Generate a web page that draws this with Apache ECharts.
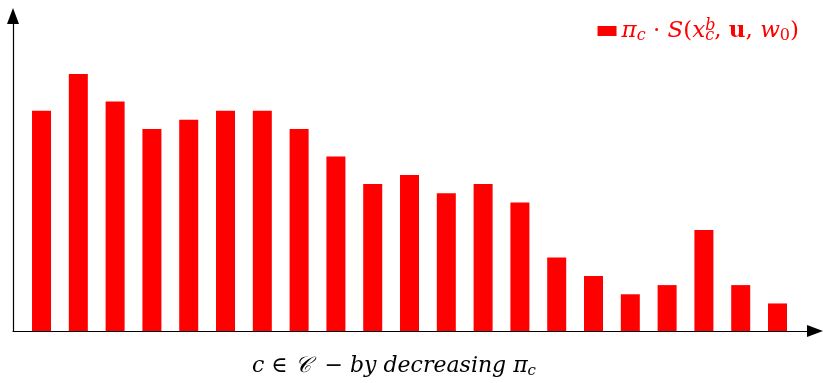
<!DOCTYPE html>
<html>
<head>
<meta charset="utf-8">
<script src="https://cdn.jsdelivr.net/npm/echarts@6/dist/echarts.min.js"></script>
<style>html,body{margin:0;padding:0;background:#fff}#c{width:823px;height:383px}</style>
</head>
<body>
<div id="c"></div>
<script>
// categories c, ordered by decreasing pi_c
const categories = ['c1','c2','c3','c4','c5','c6','c7','c8','c9','c10','c11','c12','c13','c14','c15','c16','c17','c18','c19','c20','c21'];
// pi_c * S(x_c^b, u, w0) (arbitrary units)
const values = [24, 28, 25, 22, 23, 24, 24, 22, 19, 16, 17, 15, 16, 14, 8, 6, 4, 5, 11, 5, 3];
const seriesName = 'pi_c S';

const chart = echarts.init(document.getElementById('c'), null, {renderer: 'canvas'});
const RED = '#ff0000';
const FONT = '"DejaVu Serif", "Liberation Serif", serif';
function mk(size, color) {
  const base = {fontFamily: FONT, color: color, fontSize: size};
  const it = Object.assign({}, base, {fontStyle: 'italic'});
  const s = Math.round(size * 0.7);
  return {
    i: Object.assign({}, it, {lineHeight: 26, verticalAlign: 'middle'}),
    n: Object.assign({}, base, {lineHeight: 26, verticalAlign: 'middle'}),
    bf: Object.assign({}, base, {fontWeight: 'bold', lineHeight: 26, verticalAlign: 'middle'}),
    sub: Object.assign({}, it, {fontSize: s, lineHeight: 16, verticalAlign: 'bottom'}),
    subn: Object.assign({}, base, {fontSize: s, lineHeight: 16, verticalAlign: 'bottom'}),
    sup: Object.assign({}, it, {fontSize: s, lineHeight: 16, verticalAlign: 'top', width: 0})
  };
}
const legendText = '{i|π}{sub|c}{n| · }{i|S}{n|(}{i|x}{sup|b}{sub|c}{n|, }{bf|u}{n|, }{i|w}{subn|0}{n|)}';

chart.setOption({
  animation: false,
  backgroundColor: '#fff',
  grid: {left: 13, right: 8, top: 16, bottom: 52, containLabel: false},
  legend: {
    right: 19, top: 13,
    itemWidth: 19, itemHeight: 10, itemGap: 9,
    icon: 'rect',
    data: [seriesName],
    formatter: () => legendText,
    textStyle: {rich: mk(23, RED), color: RED}
  },
  xAxis: {
    type: 'value',
    min: -0.775, max: 21.019,
    axisLine: {show: true, onZero: false, lineStyle: {color: '#000', width: 1.2}, symbol: ['none', 'triangle'], symbolSize: [12, 16]},
    axisTick: {show: false}, axisLabel: {show: false}, splitLine: {show: false}
  },
  yAxis: {
    type: 'value',
    min: 0, max: 34.31,
    axisLine: {show: true, onZero: false, lineStyle: {color: '#000', width: 1.2}, symbol: ['none', 'triangle'], symbolSize: [12, 16]},
    axisTick: {show: false}, axisLabel: {show: false}, splitLine: {show: false}
  },
  graphic: [{
    type: 'text',
    left: 252, top: 355,
    style: {
      text: '{i|c}{n| ∈ }{i|𝒞}{n|  − }{i|by decreasing π}{sub|c}',
      rich: mk(22, '#000')
    }
  }],
  series: [{
    name: seriesName,
    type: 'bar',
    barWidth: 19,
    itemStyle: {color: RED},
    data: values.map((v, k) => [k, v])
  }]
});
</script>
</body>
</html>
